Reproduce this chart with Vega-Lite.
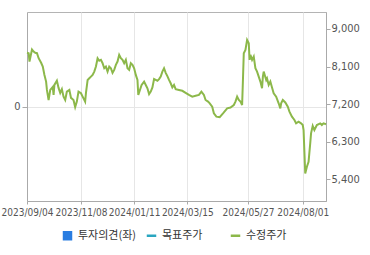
{
  "$schema": "https://vega.github.io/schema/vega-lite/v6.json",
  "width": 299,
  "height": 189,
  "autosize": {"type": "none"},
  "padding": {"left": 27, "top": 12, "right": 44, "bottom": 54},
  "background": "#ffffff",
  "config": {
    "view": {"stroke": "#b4b4b4", "strokeWidth": 1},
    "axis": {
      "labelFont": "Liberation Sans Narrow, DejaVu Sans Condensed, sans-serif",
      "labelFontSize": 11,
      "labelColor": "#555555",
      "domainColor": "#aaaaaa",
      "tickColor": "#aaaaaa",
      "gridColor": "#e6e6e6",
      "title": null
    }
  },
  "datasets": {
    "price": [
      {"date":"2023-09-04","price":8430,"series":"수정주가"},
      {"date":"2023-09-06","price":8420,"series":"수정주가"},
      {"date":"2023-09-07","price":8220,"series":"수정주가"},
      {"date":"2023-09-10","price":8510,"series":"수정주가"},
      {"date":"2023-09-12","price":8460,"series":"수정주가"},
      {"date":"2023-09-14","price":8430,"series":"수정주가"},
      {"date":"2023-09-16","price":8420,"series":"수정주가"},
      {"date":"2023-09-18","price":8300,"series":"수정주가"},
      {"date":"2023-09-21","price":8190,"series":"수정주가"},
      {"date":"2023-09-23","price":8100,"series":"수정주가"},
      {"date":"2023-09-25","price":7900,"series":"수정주가"},
      {"date":"2023-09-27","price":7740,"series":"수정주가"},
      {"date":"2023-09-28","price":7540,"series":"수정주가"},
      {"date":"2023-09-30","price":7300,"series":"수정주가"},
      {"date":"2023-10-02","price":7540,"series":"수정주가"},
      {"date":"2023-10-05","price":7610,"series":"수정주가"},
      {"date":"2023-10-06","price":7420,"series":"수정주가"},
      {"date":"2023-10-07","price":7660,"series":"수정주가"},
      {"date":"2023-10-10","price":7760,"series":"수정주가"},
      {"date":"2023-10-12","price":7590,"series":"수정주가"},
      {"date":"2023-10-14","price":7470,"series":"수정주가"},
      {"date":"2023-10-16","price":7560,"series":"수정주가"},
      {"date":"2023-10-18","price":7380,"series":"수정주가"},
      {"date":"2023-10-20","price":7300,"series":"수정주가"},
      {"date":"2023-10-22","price":7500,"series":"수정주가"},
      {"date":"2023-10-25","price":7540,"series":"수정주가"},
      {"date":"2023-10-27","price":7350,"series":"수정주가"},
      {"date":"2023-10-30","price":7300,"series":"수정주가"},
      {"date":"2023-11-01","price":7130,"series":"수정주가"},
      {"date":"2023-11-03","price":7260,"series":"수정주가"},
      {"date":"2023-11-05","price":7500,"series":"수정주가"},
      {"date":"2023-11-08","price":7460,"series":"수정주가"},
      {"date":"2023-11-10","price":7380,"series":"수정주가"},
      {"date":"2023-11-13","price":7260,"series":"수정주가"},
      {"date":"2023-11-14","price":7470,"series":"수정주가"},
      {"date":"2023-11-16","price":7780,"series":"수정주가"},
      {"date":"2023-11-18","price":7820,"series":"수정주가"},
      {"date":"2023-11-20","price":7860,"series":"수정주가"},
      {"date":"2023-11-22","price":7900,"series":"수정주가"},
      {"date":"2023-11-24","price":7980,"series":"수정주가"},
      {"date":"2023-11-26","price":8100,"series":"수정주가"},
      {"date":"2023-11-28","price":8300,"series":"수정주가"},
      {"date":"2023-11-30","price":8240,"series":"수정주가"},
      {"date":"2023-12-02","price":8260,"series":"수정주가"},
      {"date":"2023-12-04","price":8180,"series":"수정주가"},
      {"date":"2023-12-06","price":8060,"series":"수정주가"},
      {"date":"2023-12-08","price":8100,"series":"수정주가"},
      {"date":"2023-12-10","price":7980,"series":"수정주가"},
      {"date":"2023-12-12","price":8100,"series":"수정주가"},
      {"date":"2023-12-14","price":8060,"series":"수정주가"},
      {"date":"2023-12-16","price":7950,"series":"수정주가"},
      {"date":"2023-12-18","price":8020,"series":"수정주가"},
      {"date":"2023-12-20","price":8140,"series":"수정주가"},
      {"date":"2023-12-22","price":8220,"series":"수정주가"},
      {"date":"2023-12-24","price":8380,"series":"수정주가"},
      {"date":"2023-12-26","price":8300,"series":"수정주가"},
      {"date":"2023-12-28","price":8260,"series":"수정주가"},
      {"date":"2023-12-30","price":8180,"series":"수정주가"},
      {"date":"2024-01-01","price":8260,"series":"수정주가"},
      {"date":"2024-01-03","price":8060,"series":"수정주가"},
      {"date":"2024-01-05","price":8020,"series":"수정주가"},
      {"date":"2024-01-07","price":8180,"series":"수정주가"},
      {"date":"2024-01-09","price":8140,"series":"수정주가"},
      {"date":"2024-01-11","price":8060,"series":"수정주가"},
      {"date":"2024-01-13","price":7900,"series":"수정주가"},
      {"date":"2024-01-15","price":7780,"series":"수정주가"},
      {"date":"2024-01-16","price":7420,"series":"수정주가"},
      {"date":"2024-01-18","price":7540,"series":"수정주가"},
      {"date":"2024-01-20","price":7660,"series":"수정주가"},
      {"date":"2024-01-23","price":7740,"series":"수정주가"},
      {"date":"2024-01-25","price":7660,"series":"수정주가"},
      {"date":"2024-01-27","price":7580,"series":"수정주가"},
      {"date":"2024-01-29","price":7440,"series":"수정주가"},
      {"date":"2024-01-31","price":7500,"series":"수정주가"},
      {"date":"2024-02-02","price":7600,"series":"수정주가"},
      {"date":"2024-02-04","price":7800,"series":"수정주가"},
      {"date":"2024-02-06","price":7780,"series":"수정주가"},
      {"date":"2024-02-08","price":7760,"series":"수정주가"},
      {"date":"2024-02-10","price":7800,"series":"수정주가"},
      {"date":"2024-02-12","price":7860,"series":"수정주가"},
      {"date":"2024-02-14","price":7980,"series":"수정주가"},
      {"date":"2024-02-16","price":8060,"series":"수정주가"},
      {"date":"2024-02-18","price":7950,"series":"수정주가"},
      {"date":"2024-02-20","price":7870,"series":"수정주가"},
      {"date":"2024-02-22","price":7780,"series":"수정주가"},
      {"date":"2024-02-24","price":7700,"series":"수정주가"},
      {"date":"2024-02-26","price":7600,"series":"수정주가"},
      {"date":"2024-02-28","price":7660,"series":"수정주가"},
      {"date":"2024-03-01","price":7560,"series":"수정주가"},
      {"date":"2024-03-05","price":7540,"series":"수정주가"},
      {"date":"2024-03-09","price":7520,"series":"수정주가"},
      {"date":"2024-03-13","price":7470,"series":"수정주가"},
      {"date":"2024-03-17","price":7420,"series":"수정주가"},
      {"date":"2024-03-21","price":7380,"series":"수정주가"},
      {"date":"2024-03-25","price":7400,"series":"수정주가"},
      {"date":"2024-03-29","price":7420,"series":"수정주가"},
      {"date":"2024-04-01","price":7500,"series":"수정주가"},
      {"date":"2024-04-04","price":7420,"series":"수정주가"},
      {"date":"2024-04-06","price":7300,"series":"수정주가"},
      {"date":"2024-04-09","price":7260,"series":"수정주가"},
      {"date":"2024-04-11","price":7220,"series":"수정주가"},
      {"date":"2024-04-14","price":7140,"series":"수정주가"},
      {"date":"2024-04-16","price":6980,"series":"수정주가"},
      {"date":"2024-04-19","price":6900,"series":"수정주가"},
      {"date":"2024-04-23","price":6890,"series":"수정주가"},
      {"date":"2024-04-27","price":6980,"series":"수정주가"},
      {"date":"2024-05-02","price":7100,"series":"수정주가"},
      {"date":"2024-05-06","price":7120,"series":"수정주가"},
      {"date":"2024-05-10","price":7180,"series":"수정주가"},
      {"date":"2024-05-12","price":7260,"series":"수정주가"},
      {"date":"2024-05-14","price":7380,"series":"수정주가"},
      {"date":"2024-05-16","price":7300,"series":"수정주가"},
      {"date":"2024-05-18","price":7260,"series":"수정주가"},
      {"date":"2024-05-20","price":7180,"series":"수정주가"},
      {"date":"2024-05-21","price":7780,"series":"수정주가"},
      {"date":"2024-05-22","price":8420,"series":"수정주가"},
      {"date":"2024-05-24","price":8500,"series":"수정주가"},
      {"date":"2024-05-26","price":8740,"series":"수정주가"},
      {"date":"2024-05-28","price":8660,"series":"수정주가"},
      {"date":"2024-05-29","price":8260,"series":"수정주가"},
      {"date":"2024-05-30","price":8380,"series":"수정주가"},
      {"date":"2024-06-01","price":8260,"series":"수정주가"},
      {"date":"2024-06-03","price":8340,"series":"수정주가"},
      {"date":"2024-06-05","price":8060,"series":"수정주가"},
      {"date":"2024-06-07","price":7980,"series":"수정주가"},
      {"date":"2024-06-09","price":7860,"series":"수정주가"},
      {"date":"2024-06-11","price":7740,"series":"수정주가"},
      {"date":"2024-06-13","price":7580,"series":"수정주가"},
      {"date":"2024-06-14","price":7860,"series":"수정주가"},
      {"date":"2024-06-15","price":7980,"series":"수정주가"},
      {"date":"2024-06-18","price":7780,"series":"수정주가"},
      {"date":"2024-06-19","price":7820,"series":"수정주가"},
      {"date":"2024-06-21","price":7660,"series":"수정주가"},
      {"date":"2024-06-23","price":7740,"series":"수정주가"},
      {"date":"2024-06-25","price":7600,"series":"수정주가"},
      {"date":"2024-06-27","price":7460,"series":"수정주가"},
      {"date":"2024-06-30","price":7380,"series":"수정주가"},
      {"date":"2024-07-03","price":7220,"series":"수정주가"},
      {"date":"2024-07-05","price":7100,"series":"수정주가"},
      {"date":"2024-07-06","price":7220,"series":"수정주가"},
      {"date":"2024-07-08","price":7300,"series":"수정주가"},
      {"date":"2024-07-11","price":7240,"series":"수정주가"},
      {"date":"2024-07-14","price":7140,"series":"수정주가"},
      {"date":"2024-07-16","price":7020,"series":"수정주가"},
      {"date":"2024-07-19","price":6900,"series":"수정주가"},
      {"date":"2024-07-22","price":6820,"series":"수정주가"},
      {"date":"2024-07-24","price":6740,"series":"수정주가"},
      {"date":"2024-07-27","price":6780,"series":"수정주가"},
      {"date":"2024-07-30","price":6740,"series":"수정주가"},
      {"date":"2024-08-01","price":6700,"series":"수정주가"},
      {"date":"2024-08-02","price":6580,"series":"수정주가"},
      {"date":"2024-08-03","price":6050,"series":"수정주가"},
      {"date":"2024-08-04","price":5540,"series":"수정주가"},
      {"date":"2024-08-06","price":5700,"series":"수정주가"},
      {"date":"2024-08-08","price":5820,"series":"수정주가"},
      {"date":"2024-08-10","price":6260,"series":"수정주가"},
      {"date":"2024-08-11","price":6500,"series":"수정주가"},
      {"date":"2024-08-13","price":6680,"series":"수정주가"},
      {"date":"2024-08-15","price":6580,"series":"수정주가"},
      {"date":"2024-08-18","price":6700,"series":"수정주가"},
      {"date":"2024-08-22","price":6740,"series":"수정주가"},
      {"date":"2024-08-24","price":6700,"series":"수정주가"},
      {"date":"2024-08-26","price":6740,"series":"수정주가"},
      {"date":"2024-08-29","price":6720,"series":"수정주가"}
    ],
    "opinion": []
  },
  "layer": [
    {
      "data": {"name": "opinion"},
      "mark": {"type": "bar", "color": "#2a7de1"},
      "encoding": {
        "y": {
          "field": "opinion",
          "type": "quantitative",
          "scale": {"domain": [-1, 1], "nice": false, "zero": false},
          "axis": {
            "orient": "left",
            "values": [0],
            "grid": true,
            "tickSize": 5,
            "labelPadding": 2,
            "format": "d"
          }
        }
      }
    },
    {
      "data": {"name": "price"},
      "mark": {"type": "line", "strokeWidth": 2, "interpolate": "linear", "color": "#8cb84a"},
      "encoding": {
        "x": {
          "field": "date",
          "type": "temporal",
          "scale": {
            "type": "utc",
            "domain": [
              {"year": 2023, "month": 9, "date": 4, "utc": true},
              {"year": 2024, "month": 8, "date": 29, "utc": true}
            ]
          },
          "axis": {
            "values": [
              {"year": 2023, "month": 9, "date": 4, "utc": true},
              {"year": 2023, "month": 11, "date": 8, "utc": true},
              {"year": 2024, "month": 1, "date": 11, "utc": true},
              {"year": 2024, "month": 3, "date": 15, "utc": true},
              {"year": 2024, "month": 5, "date": 27, "utc": true},
              {"year": 2024, "month": 8, "date": 1, "utc": true}
            ],
            "format": "%Y/%m/%d",
            "grid": true,
            "tickSize": 3,
            "labelPadding": 3,
            "labelAngle": 0,
            "labelFlush": false,
            "labelFontSize": 10,
            "labelOverlap": false
          }
        },
        "y": {
          "field": "price",
          "type": "quantitative",
          "scale": {"domain": [4880, 9407], "nice": false, "zero": false},
          "axis": {
            "orient": "right",
            "values": [5400, 6300, 7200, 8100, 9000],
            "format": ",.0f",
            "grid": false,
            "tickSize": 4,
            "labelPadding": 1
          }
        },
        "color": {
          "field": "series",
          "type": "nominal",
          "scale": {
            "domain": ["투자의견(좌)", "목표주가", "수정주가"],
            "range": ["#2a7de1", "#2aa6c0", "#8cb84a"]
          },
          "legend": {
            "orient": "none",
            "legendX": 35,
            "legendY": 218,
            "direction": "horizontal",
            "columns": 3,
            "gridAlign": "all",
            "title": null,
            "padding": 0,
            "symbolSize": 90,
            "labelOffset": 5,
            "columnPadding": 4,
            "labelFont": "Noto Sans CJK KR",
            "labelFontSize": 11,
            "labelColor": "#333333",
            "encode": {
              "symbols": {
                "update": {
                  "shape": {"signal": "datum.label === '투자의견(좌)' ? 'square' : 'stroke'"},
                  "strokeWidth": {"signal": "datum.label === '투자의견(좌)' ? 0 : 2.5"},
                  "fill": {"scale": "color", "field": "value"},
                  "stroke": {"scale": "color", "field": "value"},
                  "opacity": {"value": 1}
                }
              }
            }
          }
        }
      }
    }
  ],
  "resolve": {"scale": {"y": "independent"}, "axis": {"y": "independent"}}
}
